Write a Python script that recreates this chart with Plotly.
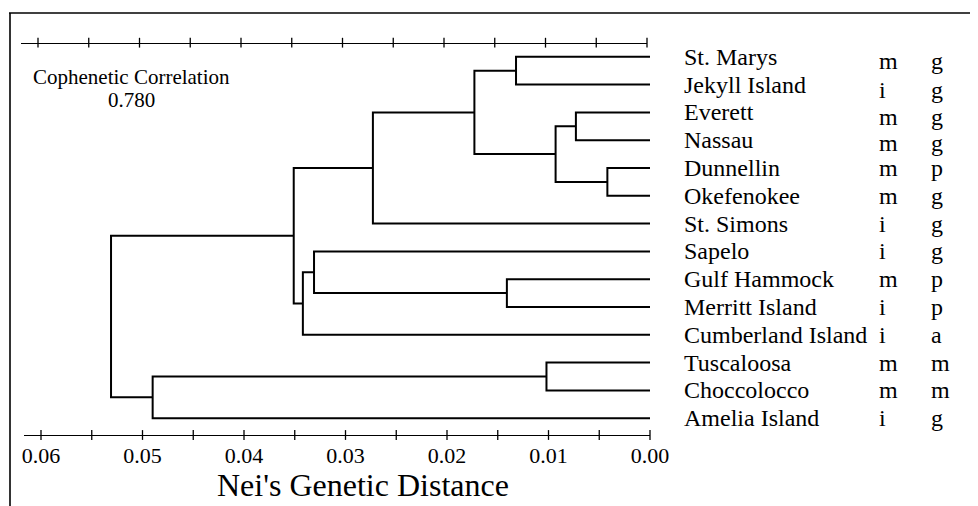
import plotly.graph_objects as go

# ---------------- data ----------------
leaves = ["St. Marys", "Jekyll Island", "Everett", "Nassau", "Dunnellin",
          "Okefenokee", "St. Simons", "Sapelo", "Gulf Hammock", "Merritt Island",
          "Cumberland Island", "Tuscaloosa", "Choccolocco", "Amelia Island"]
habitat = ["m", "i", "m", "m", "m", "m", "i", "i", "m", "i", "i", "m", "m", "i"]
region = ["g", "g", "g", "g", "p", "g", "g", "g", "p", "p", "a", "m", "m", "g"]

# clusters are numbered 14, 15, ... in merge order (like a linkage table)
merge_left = [0, 2, 4, 15, 14, 18, 8, 7, 21, 19, 11, 24, 23]
merge_right = [1, 3, 5, 16, 17, 6, 9, 20, 10, 22, 12, 13, 25]
merge_dist = [0.0132, 0.0073, 0.0042, 0.0093, 0.0173, 0.0273, 0.0141,
              0.0331, 0.0342, 0.0351, 0.0102, 0.0490, 0.0531]

tick_values = [0.06, 0.055, 0.05, 0.045, 0.04, 0.035, 0.03, 0.025,
               0.02, 0.015, 0.01, 0.005, 0.0]
tick_labels = ["0.06", "", "0.05", "", "0.04", "", "0.03", "",
               "0.02", "", "0.01", "", "0.00"]

cophenetic_title = "Cophenetic Correlation"
cophenetic_value = "0.780"
axis_title = "Nei's Genetic Distance"

# small vertical nudges of the code columns as printed (px)
code_shift = [-4, -5, -5, -3, 0, 0, 0, 0, 0, 0, 0, 0, 0, 0]

# ---------------- geometry (reference-page pixels) ----------------
OFF = 8                      # page body margin of the html
W, H = 978 - OFF, 506 - OFF  # figure size so it fits the window exactly


def px_x(p):
    return (p - OFF) / W


def px_y(p):
    return 1 - (p - OFF) / H


X_LEFT_PX, X_RIGHT_PX = 24, 650          # bottom axis extent
PX_PER_UNIT = (650 - 41) / 0.06          # 0.06 tick at x=41, 0.00 at 650
X_MAX = 0.06 + (41 - X_LEFT_PX) / PX_PER_UNIT
ROW0_PX, ROW_PX = 56.8 - OFF, 27.8
Y_TOP = -ROW0_PX / ROW_PX
Y_BOT = (H - ROW0_PX) / ROW_PX
BOTTOM_AXIS_PX, TOP_AXIS_PX = 435, 42.7
Y_BOTTOM_AXIS = (BOTTOM_AXIS_PX - OFF - ROW0_PX) / ROW_PX
Y_TOP_AXIS = (TOP_AXIS_PX - OFF - ROW0_PX) / ROW_PX

SERIF = "Liberation Serif, Times New Roman, serif"
TEXT_LIFT = 0

# build dendrogram segments
node_x = {i: 0.0 for i in range(len(leaves))}
node_y = {i: float(i) for i in range(len(leaves))}
xs, ys = [], []
for k, (l, r, d) in enumerate(zip(merge_left, merge_right, merge_dist)):
    nid = len(leaves) + k
    xs += [node_x[l], d, d, node_x[r], None]
    ys += [node_y[l], node_y[l], node_y[r], node_y[r], None]
    node_x[nid] = d
    node_y[nid] = (node_y[l] + node_y[r]) / 2

fig = go.Figure()
fig.add_trace(go.Scatter(x=xs, y=ys, mode="lines",
                         line=dict(color="black", width=2),
                         hoverinfo="skip", showlegend=False))
# tick marks crossing the bottom axis line
fig.add_trace(go.Scatter(x=tick_values, y=[Y_BOTTOM_AXIS] * len(tick_values),
                         mode="markers", cliponaxis=False,
                         marker=dict(symbol="line-ns", size=7,
                                     line=dict(color="black", width=1.3)),
                         hoverinfo="skip", showlegend=False))
# tick marks crossing the top axis line
fig.add_trace(go.Scatter(x=tick_values, y=[Y_TOP_AXIS] * len(tick_values),
                         xaxis="x2", yaxis="y", mode="markers", cliponaxis=False,
                         marker=dict(symbol="line-ns", size=7,
                                     line=dict(color="black", width=1.3)),
                         hoverinfo="skip", showlegend=False))

dom_b = [px_x(X_LEFT_PX), px_x(X_RIGHT_PX)]
dom_t = [px_x(X_LEFT_PX - 3), px_x(X_RIGHT_PX - 3)]
pos_b = px_y(BOTTOM_AXIS_PX)
pos_t = px_y(TOP_AXIS_PX)

common = dict(range=[X_MAX, 0.0], autorange=False, showgrid=False, zeroline=False,
              showline=True, linecolor="black", linewidth=1.3, ticks="",
              tickmode="array", tickvals=tick_values, anchor="free",
              fixedrange=True)

fig.update_layout(
    width=W, height=H,
    margin=dict(l=0, r=0, t=0, b=0, pad=0, autoexpand=False),
    paper_bgcolor="white", plot_bgcolor="rgba(0,0,0,0)",
    showlegend=False,
    xaxis=dict(**common, domain=dom_b, position=pos_b,
               ticktext=tick_labels, ticklabelstandoff=0,
               tickfont=dict(family=SERIF, size=22, color="black")),
    xaxis2=dict(**common, domain=dom_t, position=pos_t, side="top",
                showticklabels=False),
    yaxis=dict(range=[Y_BOT, Y_TOP], autorange=False, domain=[0, 1],
               visible=False, showgrid=False, fixedrange=True),
)

# leaf labels and code columns
for i, name in enumerate(leaves):
    fig.add_annotation(x=px_x(682), xref="paper", y=i, yref="y", text=name,
                       xanchor="left", yanchor="middle", showarrow=False,
                       yshift=TEXT_LIFT,
                       font=dict(family=SERIF, size=24, color="black"))
    fig.add_annotation(x=px_x(877), xref="paper", y=i, yref="y", text=habitat[i],
                       xanchor="left", yanchor="middle", showarrow=False,
                       yshift=TEXT_LIFT + code_shift[i],
                       font=dict(family=SERIF, size=24, color="black"))
    fig.add_annotation(x=px_x(929), xref="paper", y=i, yref="y", text=region[i],
                       xanchor="left", yanchor="middle", showarrow=False,
                       yshift=TEXT_LIFT + code_shift[i],
                       font=dict(family=SERIF, size=24, color="black"))

fig.add_annotation(x=px_x(132), xref="paper", y=px_y(77), yref="paper",
                   text=cophenetic_title, showarrow=False, xanchor="center",
                   yanchor="middle", font=dict(family=SERIF, size=21, color="black"))
fig.add_annotation(x=px_x(132), xref="paper", y=px_y(100), yref="paper",
                   text=cophenetic_value, showarrow=False, xanchor="center",
                   yanchor="middle", font=dict(family=SERIF, size=21, color="black"))
fig.add_annotation(x=px_x(363), xref="paper", y=px_y(485), yref="paper",
                   text=axis_title, showarrow=False, xanchor="center",
                   yanchor="middle", font=dict(family=SERIF, size=32, color="black"))

# page frame
fig.add_shape(type="line", xref="paper", yref="paper", x0=px_x(9), x1=1,
              y0=px_y(13), y1=px_y(13), line=dict(color="black", width=1.6))
fig.add_shape(type="line", xref="paper", yref="paper", x0=px_x(10), x1=px_x(10),
              y0=px_y(13), y1=0, line=dict(color="black", width=1.6))

fig.write_html("out.html")
